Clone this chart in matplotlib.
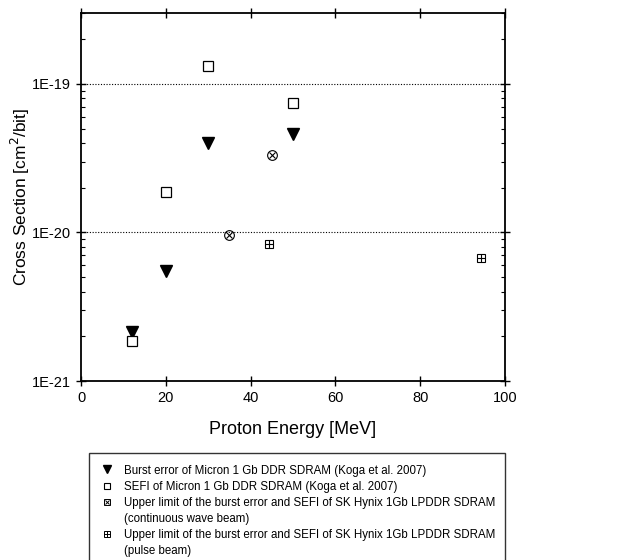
import numpy as np
import matplotlib
matplotlib.use('Agg')
import matplotlib.pyplot as plt
from matplotlib.lines import Line2D
from matplotlib.legend_handler import HandlerTuple

plt.rcParams.update({'font.family': ['Liberation Sans', 'DejaVu Sans'],
                     'font.size': 10})

# burst error, Micron 1 Gb DDR SDRAM (Koga et al. 2007)
burst_e = [12, 20, 30, 50]
burst_xs = [2.15e-21, 5.5e-21, 4.0e-20, 4.6e-20]
# SEFI, Micron 1 Gb DDR SDRAM
sefi_e = [12, 20, 30, 50]
sefi_xs = [1.85e-21, 1.87e-20, 1.31e-19, 7.4e-20]
# SK Hynix upper limits, continuous wave beam
cw_e = [35, 45]
cw_xs = [9.65e-21, 3.3e-20]
# SK Hynix upper limits, pulse beam
pulse_e = [44.3, 94.3]
pulse_xs = [8.4e-21, 6.75e-21]

labels = ['Burst error of Micron 1 Gb DDR SDRAM (Koga et al. 2007)',
          'SEFI of Micron 1 Gb DDR SDRAM (Koga et al. 2007)',
          'Upper limit of the burst error and SEFI of SK Hynix 1Gb LPDDR SDRAM',
          '(continuous wave beam)',
          'Upper limit of the burst error and SEFI of SK Hynix 1Gb LPDDR SDRAM',
          '(pulse beam)']

fig = plt.figure(figsize=(6.19, 5.6), dpi=100)
ax = fig.add_axes([81/619, 1-381/560, 424/619, 368/560])

ax.plot(burst_e, burst_xs, 'v', color='k', ms=8, ls='none')
ax.plot(sefi_e, sefi_xs, 's', mfc='white', mec='k', mew=0.9, ms=7, ls='none')
ax.plot(cw_e, cw_xs, 'o', mfc='white', mec='k', mew=0.8, ms=7, ls='none')
ax.plot(cw_e, cw_xs, 'x', color='k', mew=0.8, ms=5, ls='none')
ax.plot(pulse_e, pulse_xs, 's', mfc='white', mec='k', mew=0.8, ms=6, ls='none')
ax.plot(pulse_e, pulse_xs, '+', color='k', mew=0.8, ms=6, ls='none')

ax.set_yscale('log')
ax.set_xlim(0, 100)
ax.set_ylim(1e-21, 3e-19)
ax.set_xticks([0, 20, 40, 60, 80, 100])
ax.set_yticks([1e-21, 1e-20, 1e-19])
ax.set_yticklabels(['1E-21', '1E-20', '1E-19'])
ax.tick_params(axis='both', which='major', direction='inout', length=7, width=1,
               top=True, right=True, labelsize=10.5)
ax.tick_params(axis='y', which='minor', direction='in', length=3, width=0.8,
               left=True, right=True, labelleft=False)
for sp in ax.spines.values():
    sp.set_linewidth(1.3)
for yv in [1e-20, 1e-19]:
    ax.axhline(yv, color='k', ls=(0, (1, 1.5)), lw=0.8)

ax.set_xlabel('Proton Energy [MeV]', fontsize=13, labelpad=12)
ax.set_ylabel('Cross Section [cm$^2$/bit]', fontsize=12.5)
ax.yaxis.set_label_coords(-0.115, 0.5)

h_burst = Line2D([], [], marker='v', color='k', ls='none', ms=6)
h_sefi = Line2D([], [], marker='s', mfc='white', mec='k', ls='none', ms=4.5, mew=0.8)
h_cw = (Line2D([], [], marker='s', mfc='white', mec='k', ls='none', ms=4.5, mew=0.7),
        Line2D([], [], marker='x', color='k', ls='none', ms=3.5, mew=0.7))
h_pulse = (Line2D([], [], marker='s', mfc='white', mec='k', ls='none', ms=4.5, mew=0.7),
           Line2D([], [], marker='+', color='k', ls='none', ms=4.5, mew=0.7))
h_blank = Line2D([], [], ls='none')
handles = [h_burst, h_sefi, h_cw, h_blank, h_pulse, h_blank]

leg = fig.legend(handles, labels, loc='upper left',
                 bbox_to_anchor=(89/619, 1-453/560, 416/619, 0.0),
                 mode='expand', fontsize=8.3, labelspacing=0.35,
                 handlelength=1.2, handletextpad=0.8, borderpad=1.0,
                 borderaxespad=0, frameon=True, fancybox=False,
                 edgecolor='k', handler_map={tuple: HandlerTuple(ndivide=1, pad=0)})
leg.get_frame().set_linewidth(1.0)

fig.savefig('out.png', dpi=100)
